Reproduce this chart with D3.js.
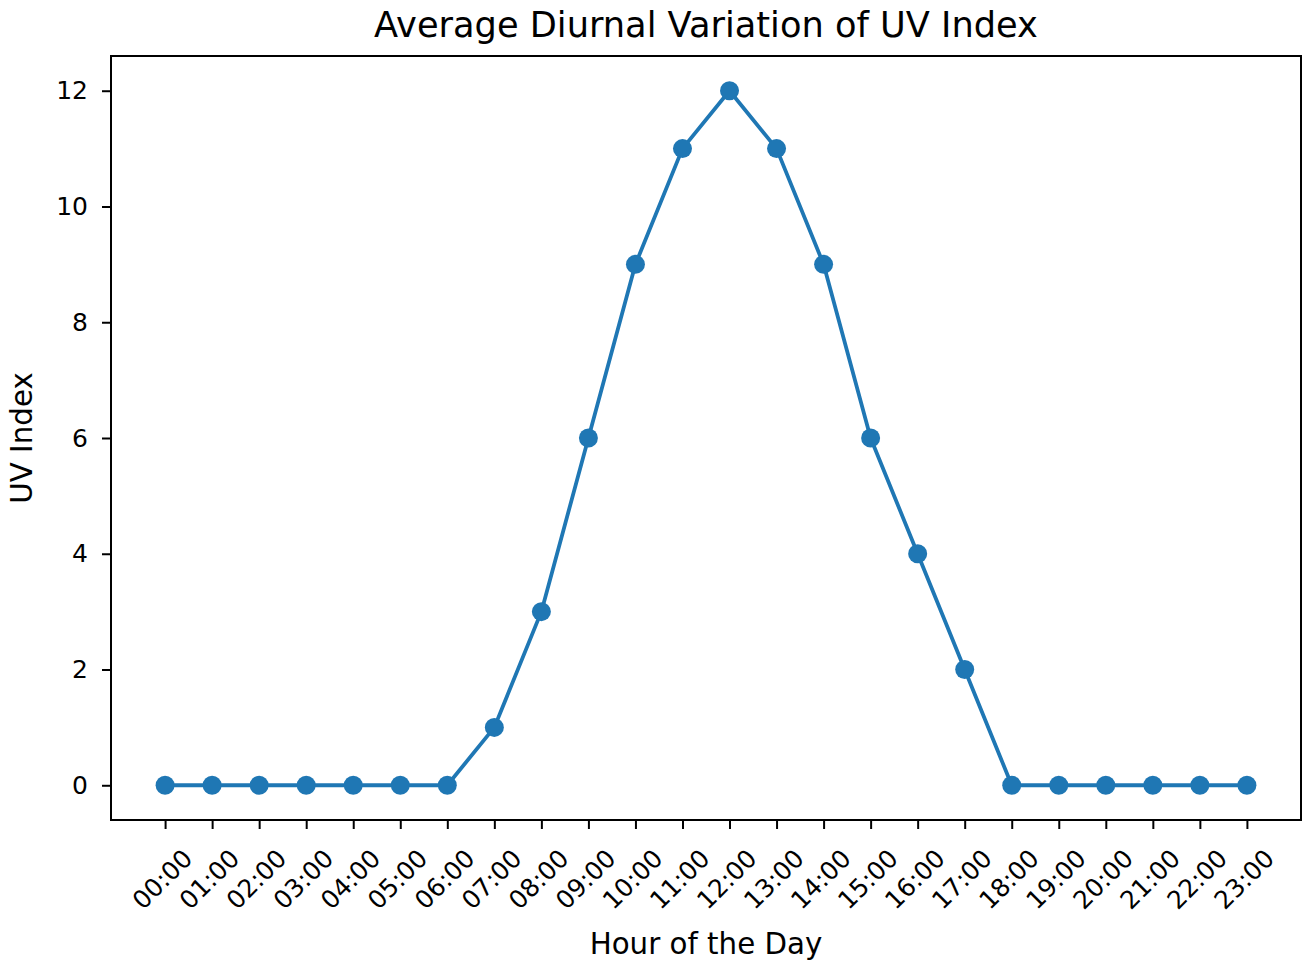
<!DOCTYPE html>
<html>
<head>
<meta charset="utf-8">
<script src="https://cdn.jsdelivr.net/npm/d3@7"></script>
<style>
  body { margin: 0; background: #fff; }
  svg { display: block; font-family: "DejaVu Sans", sans-serif; }
</style>
</head>
<body>
<div id="chart"></div>
<script>
// data
const hours = ["00:00","01:00","02:00","03:00","04:00","05:00","06:00","07:00","08:00","09:00","10:00","11:00",
               "12:00","13:00","14:00","15:00","16:00","17:00","18:00","19:00","20:00","21:00","22:00","23:00"];
const uvValues = [0,0,0,0,0,0,0,1,3,6,9,11,12,11,9,6,4,2,0,0,0,0,0,0];
const yTicks = [0, 2, 4, 6, 8, 10, 12];

const chartTitle = "Average Diurnal Variation of UV Index";
const xLabel = "Hour of the Day";
const yLabel = "UV Index";

const width = 1314, height = 969;
const margin = { top: 56, right: 13, bottom: 149, left: 111 };
const innerWidth = width - margin.left - margin.right;
const innerHeight = height - margin.top - margin.bottom;
const color = "#1f77b4";

const data = hours.map((h, i) => ({ hour: h, i, value: uvValues[i] }));

// matplotlib-like 5% padding on both axes
const x = d3.scaleLinear()
  .domain([-0.05 * 23, 23 + 0.05 * 23])
  .range([0, innerWidth]);

const y = d3.scaleLinear()
  .domain([-0.6, 12.6])
  .range([innerHeight, 0]);

const svg = d3.select("#chart")
  .append("svg")
    .attr("width", width)
    .attr("height", height);

const g = svg.append("g")
  .attr("transform", `translate(${margin.left},${margin.top})`);

// x axis ticks + rotated labels
const xAxis = g.append("g")
  .attr("transform", `translate(0,${innerHeight})`)
  .call(d3.axisBottom(x)
    .tickValues(d3.range(hours.length))
    .tickFormat(() => "")
    .tickSize(9)
    .tickSizeOuter(0));
xAxis.select(".domain").remove();
xAxis.selectAll("line").attr("stroke", "#000").attr("stroke-width", 2);

g.append("g")
  .selectAll("text")
  .data(data)
  .join("text")
    .attr("transform", d => `translate(${x(d.i) - 3},${innerHeight + 59}) rotate(-45)`)
    .attr("text-anchor", "middle")
    .attr("dy", "0.36em")
    .attr("font-size", 25)
    .attr("fill", "#000")
    .text(d => d.hour);

// y axis
const yAxis = g.append("g")
  .call(d3.axisLeft(y)
    .tickValues(yTicks)
    .tickSize(9)
    .tickPadding(14)
    .tickSizeOuter(0));
yAxis.select(".domain").remove();
yAxis.selectAll("line").attr("stroke", "#000").attr("stroke-width", 2);
yAxis.selectAll("text")
  .attr("font-size", 25)
  .attr("font-family", "DejaVu Sans, sans-serif")
  .attr("fill", "#000");

// frame
g.append("rect")
  .attr("x", 0)
  .attr("y", 0)
  .attr("width", innerWidth)
  .attr("height", innerHeight)
  .attr("fill", "none")
  .attr("stroke", "#000")
  .attr("stroke-width", 2);

// line + markers
const line = d3.line()
  .x(d => x(d.i))
  .y(d => y(d.value));

g.append("path")
  .datum(data)
  .attr("d", line)
  .attr("fill", "none")
  .attr("stroke", color)
  .attr("stroke-width", 3.8)
  .attr("stroke-linejoin", "round");

g.selectAll(".dot")
  .data(data)
  .join("circle")
    .attr("class", "dot")
    .attr("cx", d => x(d.i))
    .attr("cy", d => y(d.value))
    .attr("r", 9.5)
    .attr("fill", color);

// title and axis labels
svg.append("text")
  .attr("x", margin.left + innerWidth / 2)
  .attr("y", 37)
  .attr("text-anchor", "middle")
  .attr("font-size", 35.2)
  .attr("fill", "#000")
  .text(chartTitle);

svg.append("text")
  .attr("x", margin.left + innerWidth / 2)
  .attr("y", 954)
  .attr("text-anchor", "middle")
  .attr("font-size", 29.3)
  .attr("fill", "#000")
  .text(xLabel);

svg.append("text")
  .attr("transform", `translate(32,${margin.top + innerHeight / 2}) rotate(-90)`)
  .attr("text-anchor", "middle")
  .attr("font-size", 29.3)
  .attr("fill", "#000")
  .text(yLabel);
</script>
</body>
</html>
